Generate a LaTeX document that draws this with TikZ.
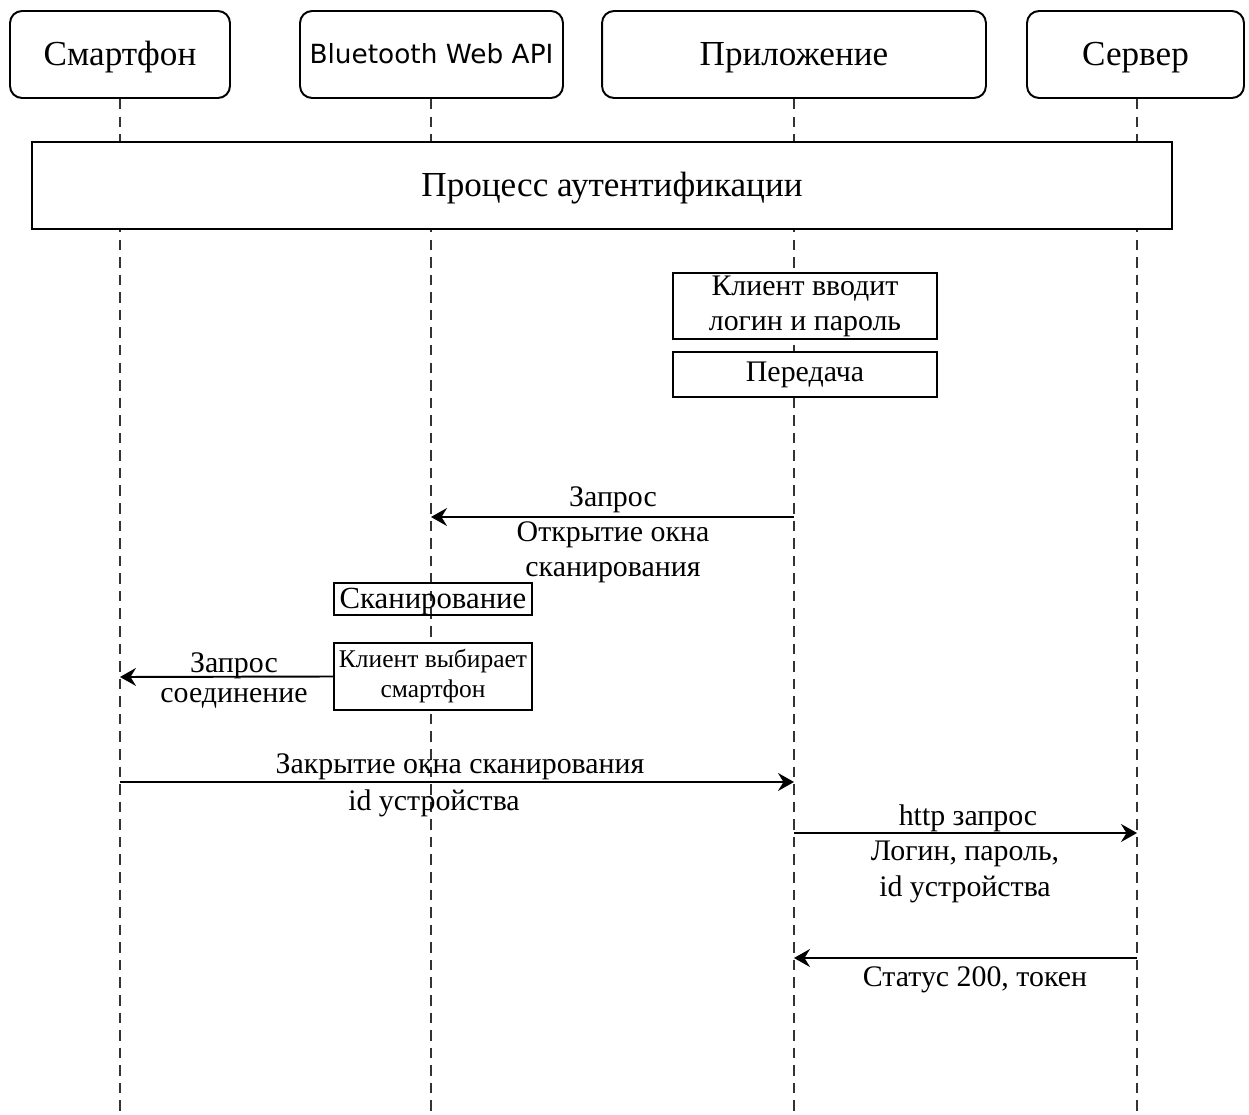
\documentclass[tikz,border=0pt]{standalone}
\usepackage{fontspec}
\setmainfont{Liberation Serif}
\newfontfamily\btfont{DejaVu Sans}
\usetikzlibrary{arrows.meta}
\tikzset{
  head/.style={draw, line width=1.1pt, rounded corners=0.24cm, minimum height=1.74cm, inner sep=0pt, text depth=0.1em, font=\fontsize{20}{24}\selectfont},
  actbox/.style={draw, line width=1.1pt, fill=white, inner sep=0pt, align=center},
  life/.style={line width=0.8pt, dash pattern=on 6pt off 4pt, draw=black!80},
  msg/.style={line width=1.1pt, -{Stealth[length=3.2mm,width=3.6mm,inset=1.1mm]}},
  lbl/.style={inner sep=0pt, align=center, font=\fontsize{17}{20}\selectfont}
}
\begin{document}
\begin{tikzpicture}[x=0.02cm,y=-0.02cm]
\useasboundingbox (0,0) rectangle (1249,1115);
% headers
\node[head, minimum width=4.4cm] (sm) at (120,54.5) {Смартфон};
\node[head, minimum width=5.26cm, font=\btfont\fontsize{15}{18}\selectfont] (bt) at (431.5,54.5) {Bluetooth Web API};
\node[head, minimum width=7.68cm] (app) at (794,54.5) {Приложение};
\node[head, minimum width=4.34cm] (srv) at (1135.5,54.5) {Сервер};
% lifeline ends
\coordinate (smE) at (120,1115);
\coordinate (btE) at (431,1115);
\coordinate (appE) at (794,1115);
\coordinate (srvE) at (1137,1115);
\draw[life] (sm.south) -- (smE);
\draw[life] (bt.south -| btE) -- (btE);
\draw[life] (app.south) -- (appE);
\draw[life] (srv.south -| srvE) -- (srvE);
% big box
\node[actbox, minimum width=22.8cm, minimum height=1.74cm, text depth=0.1em, font=\fontsize{20}{24}\selectfont] (auth) at (602,185.5) {\hspace*{0.4cm}Процесс аутентификации};
% activity boxes
\node[actbox, minimum width=5.28cm, minimum height=1.32cm, font=\fontsize{17}{20}\selectfont] (login) at (805,306) {Клиент вводит\\логин и пароль};
\node[actbox, minimum width=5.28cm, minimum height=0.9cm, font=\fontsize{17}{20}\selectfont] (send) at (805,374.5) {Передача};
\node[actbox, fill=none, minimum width=3.96cm, minimum height=0.64cm, text depth=0.1em, font=\fontsize{17.5}{20}\selectfont] (scan) at (433,599) {Сканирование};
\node[actbox, minimum width=3.96cm, minimum height=1.34cm, font=\fontsize{14.5}{17}\selectfont] (pick) at (433,676.5) {Клиент выбирает\\смартфон};
% message anchors
\coordinate (m1a) at (794,517);
\coordinate (m1b) at (431,517);
\coordinate (m2b) at (120,677);
\coordinate (m3a) at (120,782);
\coordinate (m3b) at (794,782);
\coordinate (m4a) at (794,833);
\coordinate (m4b) at (1137,833);
\coordinate (m5a) at (1137,958);
\coordinate (m5b) at (794,958);
% messages
\draw[msg] (m1a) -- (m1b);
\draw[msg] (pick.west) -- (m2b);
\draw[msg] (m3a) -- (m3b);
\draw[msg] (m4a) -- (m4b);
\draw[msg] (m5a) -- (m5b);
% labels
\node[lbl] (l1a) at (613,500) {Запрос};
\node[lbl, anchor=north] (l1b) at (613,521) {Открытие окна\\сканирования};
\node[lbl, anchor=base] (l2a) at (234,672) {Запрос};
\node[lbl, anchor=base] (l2b) at (234,702) {соединение};
\node[lbl] (l3a) at (460,767) {Закрытие окна сканирования};
\node[lbl] (l3b) at (434,803) {id устройства};
\node[lbl] (l4a) at (968,818) {http запрос};
\node[lbl, anchor=north] (l4b) at (965,841) {Логин, пароль,\\id устройства};
\node[lbl] (l5) at (975,980) {Статус 200, токен};
\end{tikzpicture}
\end{document}
